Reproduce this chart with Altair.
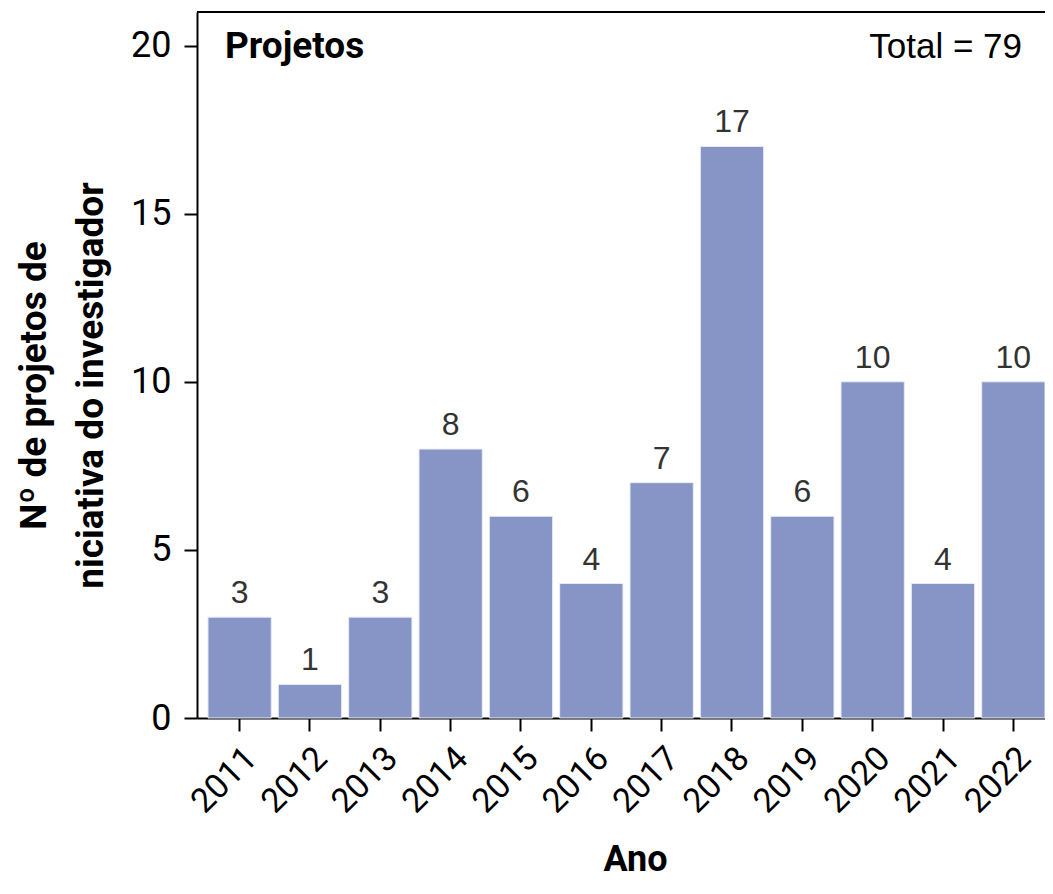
import altair as alt
import pandas as pd

years = ["2011", "2012", "2013", "2014", "2015", "2016", "2017", "2018", "2019", "2020", "2021", "2022"]
values = [3, 1, 3, 8, 6, 4, 7, 17, 6, 10, 4, 10]
y_ticks = [0, 5, 10, 15, 20]
panel_label = "Projetos"
total_label = "Total = 79"
y_title = ["Nº de projetos de", "niciativa do investigador"]
x_title = "Ano"

df = pd.DataFrame({"Ano": years, "Valor": values})
one = pd.DataFrame({"a": [0]})

W, H = 848, 706

x_enc = alt.X(
    "Ano:N",
    sort=years,
    scale=alt.Scale(paddingInner=0.1, paddingOuter=0.078, align=1),
    axis=alt.Axis(
        title=x_title,
        labelAngle=-45,
        labelFont="Roboto",
        labelFontSize=34,
        labelColor="black",
        labelPadding=10,
        tickSize=13,
        tickWidth=2,
        tickColor="black",
        domainColor="black",
        domainWidth=2,
        titleFont="Roboto",
        titleFontSize=36,
        titleFontWeight="bold",
        titleColor="black",
        titleX=438,
        titleY=152,
        titleBaseline="alphabetic",
        titleAnchor="start",
        titleAlign="center",
    ),
)
y_enc = alt.Y(
    "Valor:Q",
    scale=alt.Scale(domain=[0, 21], nice=False),
    axis=alt.Axis(
        values=y_ticks,
        grid=False,
        title=y_title,
        labelFont="Roboto",
        labelFontSize=36,
        labelColor="black",
        labelPadding=13,
        tickSize=13,
        tickWidth=2,
        tickColor="black",
        domainColor="black",
        domainWidth=2,
        titleFont="Roboto",
        titleFontSize=37,
        titleFontWeight="bold",
        titleColor="black",
        titleAngle=-90,
        titleX=-152,
        titleY=373,
        titleBaseline="alphabetic",
        titleAlign="center",
        titleAnchor="start",
        titleLineHeight=57,
    ),
)

bars = alt.Chart(df).mark_bar(color="#8795C6", stroke="#E8ECF6", strokeWidth=1).encode(
    x=x_enc, y=y_enc
)

labels = alt.Chart(df).mark_text(
    font="Liberation Sans", fontSize=32, color="#333333", baseline="alphabetic", dy=-14
).encode(
    x=alt.X("Ano:N", sort=years),
    y=alt.Y("Valor:Q"),
    text="Valor:Q",
)

top_border = alt.Chart(one).mark_rule(color="black", strokeWidth=2).encode(y=alt.value(0))

panel = alt.Chart(one).mark_text(
    font="Roboto", fontSize=37, fontWeight="bold", color="black", align="left", baseline="alphabetic"
).encode(x=alt.value(28), y=alt.value(46), text=alt.value(panel_label))

total = alt.Chart(one).mark_text(
    font="Liberation Sans", fontSize=35, color="black", align="right", baseline="alphabetic"
).encode(x=alt.value(825), y=alt.value(46), text=alt.value(total_label))

chart = alt.layer(bars, labels, top_border, panel, total).properties(
    width=W,
    height=H,
    autosize=alt.AutoSizeParams(type="none"),
    padding={"left": 189, "top": 4, "right": 0, "bottom": 162},
).configure_view(stroke=None).configure(background="white")

chart.save("out.html", embed_options={"renderer": "svg", "actions": False})
